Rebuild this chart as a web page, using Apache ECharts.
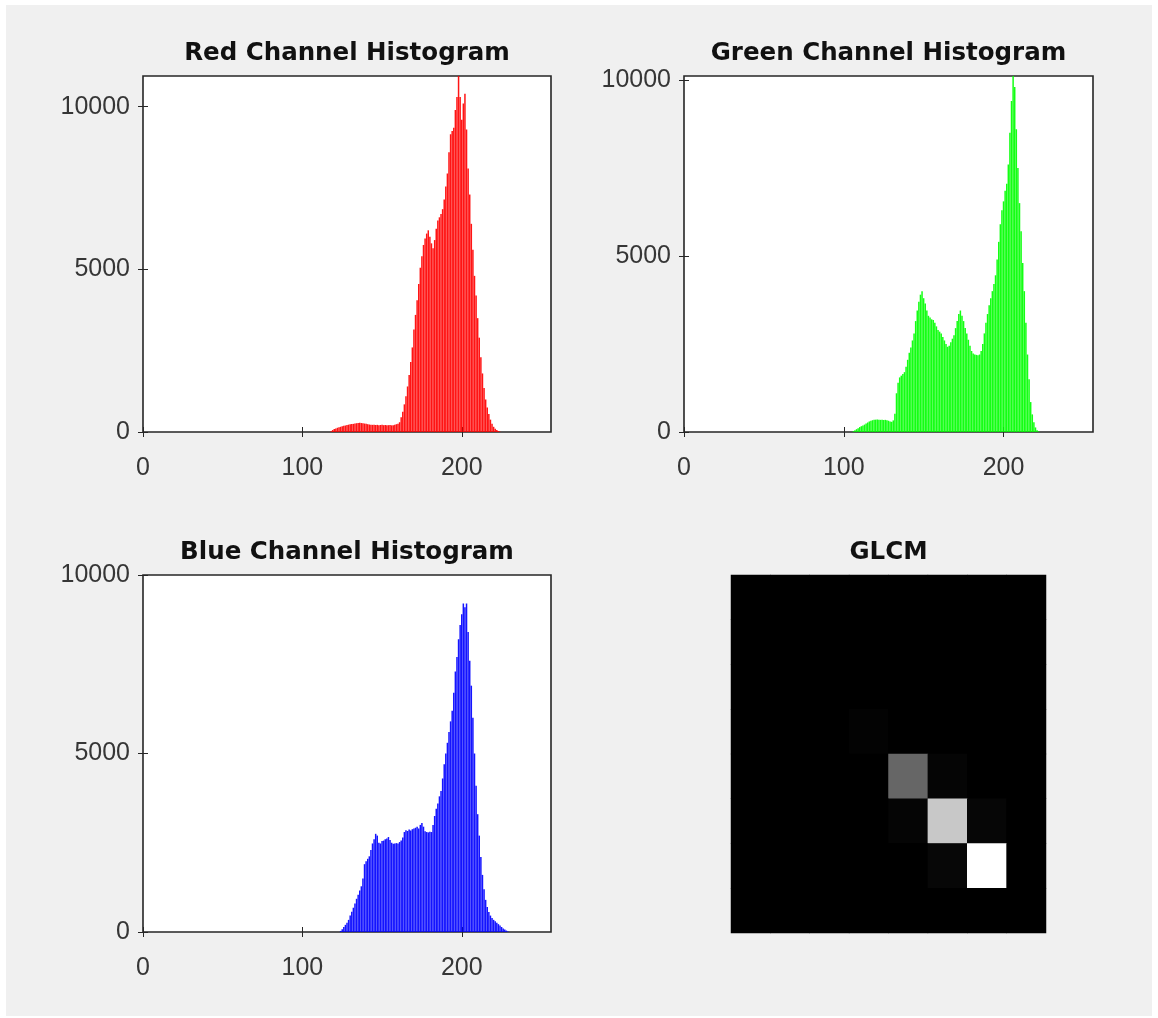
<!DOCTYPE html>
<html>
<head>
<meta charset="utf-8">
<script src="https://cdn.jsdelivr.net/npm/echarts@6/dist/echarts.min.js"></script>
<style>
html, body { margin: 0; padding: 0; background: #ffffff; }
#chart { position: absolute; left: 6px; top: 5px; width: 1146px; height: 1011px; }
</style>
</head>
<body>
<div id="chart"></div>
<script>
// Tick values shared by the three histograms
const xTicks = [0, 100, 200];
const yTicks = [0, 5000, 10000];

// Pixel counts per intensity level; each array starts at the given level,
// all levels outside the listed range are empty.
const redStart = 118;
const redCounts = [
  20, 60, 90, 110, 130, 145, 160, 175, 190, 200,
  215, 225, 235, 245, 250, 260, 270, 280, 285, 275,
  270, 260, 250, 240, 230, 225, 220, 225, 215, 220,
  210, 215, 220, 210, 215, 205, 210, 215, 205, 210,
  220, 240, 250, 300, 450, 620, 850, 1100, 1400, 1750,
  2150, 2600, 3150, 3600, 4050, 4550, 5050, 5400, 5750, 5950,
  6100, 6200, 6000, 5800, 5650, 5900, 6250, 6500, 6600, 6700,
  6850, 7150, 7550, 7950, 8600, 9150, 9250, 9350, 9900, 10300,
  10944, 10300, 9600, 10100, 10400, 9300, 8100, 7300, 6400, 5600,
  4800, 4200, 3500, 2900, 2300, 1800, 1350, 1000, 750, 550,
  380, 250, 160, 100, 60, 30, 10
];

const greenStart = 106;
const greenCounts = [
  20, 50, 80, 110, 140, 165, 185, 210, 240, 270,
  300, 320, 335, 345, 350, 355, 350, 345, 350, 340,
  345, 335, 320, 300, 290, 330, 520, 1100, 1400, 1550,
  1600, 1650, 1700, 1850, 2050, 2250, 2400, 2600, 2800, 3150,
  3450, 3700, 3900, 4000, 3800, 3650, 3450, 3300, 3250, 3200,
  3180, 3100, 3000, 2900, 2850, 2800, 2700, 2600, 2500, 2420,
  2450, 2550, 2650, 2750, 2950, 3150, 3350, 3450, 3300, 3150,
  2950, 2800, 2620, 2450, 2300, 2230, 2200, 2190, 2180, 2200,
  2300, 2500, 2800, 3100, 3350, 3600, 3800, 4000, 4200, 4450,
  4900, 5400, 5900, 6300, 6550, 6850, 7050, 7600, 8500, 9400,
  10110, 9800, 8600, 7500, 6500, 5700, 4800, 4000, 3100, 2200,
  1500, 850, 500, 280, 130, 50, 15
];

const blueStart = 124;
const blueCounts = [
  30, 80, 140, 200, 260, 340, 460, 570, 680, 800,
  930, 1040, 1160, 1280, 1500, 1900, 1980, 2050, 2120, 2300,
  2480, 2600, 2750, 2700, 2500, 2480, 2550, 2560, 2600, 2620,
  2660, 2580, 2500, 2470, 2480, 2490, 2480, 2520, 2560, 2650,
  2800, 2850, 2830, 2870, 2840, 2880, 2900, 2920, 2950, 2900,
  3000, 3050, 2950, 2820, 2800, 2790, 2810, 2800, 3000, 3250,
  3450, 3600, 3800, 3950, 4300, 4700, 5000, 5300, 5600, 5900,
  6200, 6700, 7300, 7700, 8200, 8600, 8900, 9200, 9100, 9200,
  8400, 7600, 6900, 6000, 5000, 4100, 3300, 2700, 2100, 1600,
  1200, 900, 700, 560, 460, 390, 340, 300, 260, 220,
  180, 140, 100, 70, 40, 15
];

// Grey-level co-occurrence matrix (8 levels), normalised to its largest entry.
// Entries not listed are zero.
const glcmLevels = ['1', '2', '3', '4', '5', '6', '7', '8'];
const glcmRows = [3, 4, 4, 5, 5, 5, 6, 6];
const glcmCols = [3, 4, 5, 4, 5, 6, 5, 6];
const glcmValues = [0.010, 0.40, 0.020, 0.018, 0.784, 0.022, 0.026, 1.0];

// ---- layout ----
const OX = 6, OY = 5;            // chart container offset in the page
const tickFont = 'Liberation Sans, Arial, Helvetica, sans-serif';
const titleFont = 'DejaVu Sans, Arial, sans-serif';
const axisColor = '#262626';
const labelColor = '#363636';

const panels = [
  { title: 'Red Channel Histogram',   box: [143, 76, 551, 432], start: redStart,   counts: redCounts,   color: '#ff0000', yMax: 10944 },
  { title: 'Green Channel Histogram', box: [684, 76, 1093, 432], start: greenStart, counts: greenCounts, color: '#00ff00', yMax: 10110 },
  { title: 'Blue Channel Histogram',  box: [143, 575, 551, 932], start: blueStart,  counts: blueCounts,  color: '#0000ff', yMax: 10000 }
];
const glcmBox = [731, 575, 1046, 933];

const grids = [], xAxes = [], yAxes = [], series = [], titles = [];

function gridFor(box, bg) {
  return {
    left: box[0] - OX, top: box[1] - OY,
    width: box[2] - box[0], height: box[3] - box[1],
    show: true, backgroundColor: bg,
    borderColor: axisColor, borderWidth: 1.6,
    containLabel: false, outerBoundsMode: 'none'
  };
}

function titleFor(text, box) {
  return {
    text: text,
    left: (box[0] + box[2]) / 2 - OX,
    top: box[1] - OY - 35,
    textAlign: 'center',
    padding: 0,
    textStyle: { fontFamily: titleFont, fontSize: 24.5, fontWeight: 'bold', color: '#111111' }
  };
}

const tickStyle = { color: axisColor, width: 1 };
const plainNumber = function (v) { return String(v); };

panels.forEach(function (p, k) {
  grids.push(gridFor(p.box, '#ffffff'));
  titles.push(titleFor(p.title, p.box));

  const xBase = {
    gridIndex: k, type: 'value', min: 0, max: 256,
    axisLine: { show: false },
    splitLine: { show: false },
    axisTick: { show: true, inside: true, length: 5, customValues: xTicks, lineStyle: tickStyle }
  };
  xAxes.push(Object.assign({}, xBase, {
    position: 'bottom',
    axisLabel: { customValues: xTicks, formatter: plainNumber, margin: 24, fontSize: 25, fontFamily: tickFont, color: labelColor }
  }));
  xAxes.push(Object.assign({}, xBase, { position: 'top', axisLabel: { show: false } }));

  const yBase = {
    gridIndex: k, type: 'value', min: 0, max: p.yMax,
    axisLine: { show: false },
    splitLine: { show: false },
    axisTick: { show: true, inside: true, length: 5, customValues: yTicks, lineStyle: tickStyle }
  };
  yAxes.push(Object.assign({}, yBase, {
    position: 'left',
    axisLabel: { customValues: yTicks, formatter: plainNumber, margin: 13, fontSize: 25, fontFamily: tickFont, color: labelColor }
  }));
  yAxes.push(Object.assign({}, yBase, { position: 'right', axisLabel: { show: false } }));

  series.push({
    type: 'bar',
    xAxisIndex: 2 * k, yAxisIndex: 2 * k,
    barWidth: 1.5,
    itemStyle: { color: p.color, borderWidth: 0, borderColor: p.color, opacity: 0.92 },
    data: p.counts.map(function (c, i) { return [p.start + i, c]; }),
    clip: true,
    silent: true
  });
});

// GLCM image panel
const gi = panels.length;
grids.push(Object.assign(gridFor(glcmBox, '#000000'), { borderWidth: 0 }));
titles.push(titleFor('GLCM', glcmBox));
xAxes.push({ gridIndex: gi, type: 'category', data: glcmLevels, show: false });
yAxes.push({ gridIndex: gi, type: 'category', data: glcmLevels, inverse: true, show: false });

const glcmData = [];
for (let r = 0; r < glcmLevels.length; r++) {
  for (let c = 0; c < glcmLevels.length; c++) {
    let v = 0;
    for (let n = 0; n < glcmValues.length; n++) {
      if (glcmRows[n] === r && glcmCols[n] === c) v = glcmValues[n];
    }
    glcmData.push([c, r, v]);
  }
}
series.push({
  type: 'heatmap',
  xAxisIndex: 2 * gi, yAxisIndex: 2 * gi,
  data: glcmData,
  itemStyle: { borderWidth: 0 },
  silent: true
});

const chart = echarts.init(document.getElementById('chart'), null, { renderer: 'canvas' });
chart.setOption({
  animation: false,
  backgroundColor: '#f0f0f0',
  title: titles,
  grid: grids,
  xAxis: xAxes,
  yAxis: yAxes,
  visualMap: {
    show: false, type: 'continuous', min: 0, max: 1,
    seriesIndex: series.length - 1,
    inRange: { color: ['#000000', '#ffffff'] }
  },
  series: series
});
</script>
</body>
</html>
